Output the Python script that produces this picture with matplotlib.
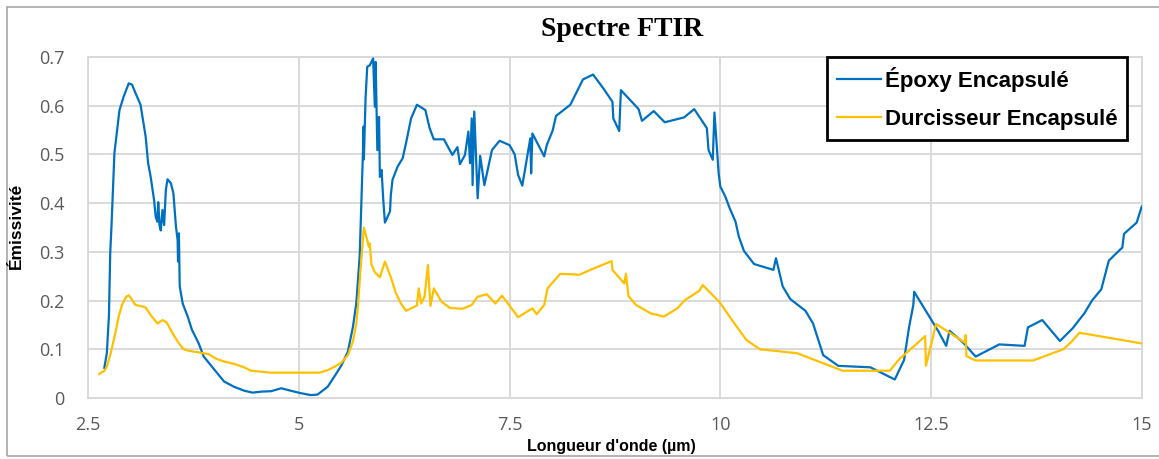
import matplotlib
matplotlib.use("Agg")
import matplotlib.pyplot as plt
from matplotlib.patches import Rectangle

# ---------------- data ----------------
epoxy_x = [2.69, 2.72, 2.745, 2.76, 2.775, 2.81, 2.87, 2.92, 2.98, 3.02, 3.06, 3.12, 3.18, 3.21,
           3.24, 3.28, 3.30, 3.32, 3.33, 3.345, 3.36, 3.38, 3.40, 3.42, 3.44, 3.48, 3.51, 3.54,
           3.56, 3.565, 3.575, 3.585, 3.62, 3.68, 3.73, 3.81, 3.87, 3.95, 4.03, 4.11, 4.23, 4.35,
           4.45, 4.55, 4.67, 4.79, 4.90, 5.02, 5.14, 5.22, 5.34, 5.42, 5.50, 5.58, 5.64, 5.68,
           5.72, 5.74, 5.76, 5.765, 5.77, 5.79, 5.81, 5.84, 5.88, 5.90, 5.91, 5.93, 5.95, 5.96,
           5.98, 6.00, 6.02, 6.08, 6.09, 6.11, 6.17, 6.23, 6.27, 6.33, 6.40, 6.50, 6.55, 6.60,
           6.72, 6.82, 6.88, 6.91, 6.97, 7.01, 7.03, 7.05, 7.06, 7.08, 7.12, 7.15, 7.20, 7.29,
           7.38, 7.50, 7.56, 7.60, 7.65, 7.745, 7.755, 7.77, 7.91, 7.94, 8.01, 8.05, 8.22, 8.37,
           8.49, 8.61, 8.72, 8.73, 8.80, 8.82, 9.03, 9.07, 9.21, 9.34, 9.57, 9.69, 9.84, 9.86,
           9.91, 9.93, 9.98, 10.00, 10.06, 10.11, 10.18, 10.22, 10.28, 10.40, 10.63, 10.66, 10.74,
           10.83, 11.01, 11.10, 11.22, 11.40, 11.78, 11.92, 12.07, 12.18, 12.24, 12.29, 12.30,
           12.49, 12.59, 12.68, 12.72, 12.88, 13.03, 13.31, 13.61, 13.65, 13.82, 14.03, 14.18,
           14.32, 14.41, 14.52, 14.61, 14.77, 14.79, 14.94, 15.00]
epoxy_y = [0.062, 0.092, 0.17, 0.297, 0.352, 0.503, 0.591, 0.619, 0.646, 0.643, 0.626, 0.602, 0.537, 0.482,
           0.454, 0.407, 0.372, 0.362, 0.402, 0.355, 0.344, 0.386, 0.355, 0.427, 0.449, 0.441, 0.420, 0.352,
           0.324, 0.280, 0.338, 0.229, 0.194, 0.167, 0.140, 0.112, 0.085, 0.068, 0.051, 0.034, 0.023, 0.015,
           0.011, 0.013, 0.014, 0.020, 0.015, 0.010, 0.006, 0.007, 0.023, 0.044, 0.066, 0.095, 0.146, 0.194,
           0.290, 0.400, 0.509, 0.557, 0.490, 0.615, 0.680, 0.683, 0.697, 0.598, 0.690, 0.509, 0.577, 0.454,
           0.468, 0.407, 0.360, 0.383, 0.417, 0.448, 0.475, 0.492, 0.523, 0.574, 0.602, 0.591, 0.554, 0.531,
           0.531, 0.499, 0.515, 0.480, 0.499, 0.547, 0.482, 0.574, 0.437, 0.588, 0.410, 0.497, 0.437, 0.509,
           0.528, 0.519, 0.500, 0.458, 0.436, 0.533, 0.461, 0.543, 0.496, 0.519, 0.549, 0.579, 0.602, 0.654,
           0.664, 0.636, 0.608, 0.574, 0.548, 0.632, 0.593, 0.569, 0.589, 0.566, 0.576, 0.593, 0.554, 0.509,
           0.489, 0.586, 0.461, 0.434, 0.413, 0.390, 0.362, 0.331, 0.302, 0.275, 0.263, 0.287, 0.229,
           0.203, 0.179, 0.153, 0.088, 0.066, 0.063, 0.051, 0.038, 0.078, 0.146, 0.191, 0.218,
           0.164, 0.136, 0.107, 0.138, 0.114, 0.085, 0.110, 0.107, 0.145, 0.160, 0.117, 0.143,
           0.174, 0.200, 0.223, 0.282, 0.309, 0.337, 0.360, 0.393]

durc_x = [2.63, 2.66, 2.69, 2.72, 2.77, 2.82, 2.86, 2.90, 2.95, 2.98, 3.01, 3.06, 3.14, 3.18, 3.24,
          3.32, 3.38, 3.43, 3.50, 3.56, 3.63, 3.69, 3.83, 3.93, 4.01, 4.11, 4.23, 4.35, 4.43, 4.55,
          4.67, 5.24, 5.34, 5.42, 5.50, 5.58, 5.64, 5.68, 5.70, 5.73, 5.77, 5.81, 5.83, 5.84, 5.86,
          5.90, 5.96, 6.02, 6.09, 6.15, 6.21, 6.27, 6.40, 6.42, 6.45, 6.49, 6.53, 6.56, 6.60, 6.69,
          6.79, 6.94, 7.05, 7.12, 7.23, 7.33, 7.41, 7.60, 7.77, 7.82, 7.91, 7.95, 8.10, 8.33, 8.47,
          8.71, 8.72, 8.86, 8.88, 8.91, 9.00, 9.17, 9.33, 9.49, 9.58, 9.75, 9.79, 9.99, 10.15, 10.31,
          10.47, 10.91, 11.45, 12.01, 12.13, 12.29, 12.43, 12.44, 12.56, 12.72, 12.90, 12.91, 12.92,
          13.03, 13.71, 14.07, 14.17, 14.26, 15.00]
durc_y = [0.049, 0.053, 0.055, 0.064, 0.095, 0.133, 0.167, 0.191, 0.208, 0.211, 0.204, 0.191, 0.188, 0.186, 0.170,
          0.153, 0.160, 0.155, 0.133, 0.116, 0.100, 0.097, 0.093, 0.090, 0.081, 0.075, 0.070, 0.063, 0.056, 0.054,
          0.052, 0.052, 0.057, 0.064, 0.072, 0.088, 0.116, 0.153, 0.188, 0.263, 0.350, 0.324, 0.310, 0.317, 0.274,
          0.258, 0.248, 0.280, 0.248, 0.215, 0.194, 0.179, 0.190, 0.225, 0.194, 0.208, 0.273, 0.189, 0.225, 0.198,
          0.185, 0.183, 0.191, 0.208, 0.213, 0.194, 0.210, 0.166, 0.184, 0.172, 0.191, 0.225, 0.255, 0.253, 0.264,
          0.281, 0.263, 0.235, 0.255, 0.209, 0.191, 0.174, 0.167, 0.184, 0.201, 0.220, 0.232, 0.197, 0.157, 0.119,
          0.100, 0.092, 0.056, 0.056, 0.081, 0.105, 0.127, 0.066, 0.152, 0.134, 0.114, 0.129, 0.086,
          0.077, 0.077, 0.100, 0.116, 0.134, 0.112]

series_labels = ["Époxy Encapsulé", "Durcisseur Encapsulé"]
x_ticks = [2.5, 5, 7.5, 10, 12.5, 15]
x_tick_labels = ["2.5", "5", "7.5", "10", "12.5", "15"]
y_ticks = [0, 0.1, 0.2, 0.3, 0.4, 0.5, 0.6, 0.7]
y_tick_labels = ["0", "0.1", "0.2", "0.3", "0.4", "0.5", "0.6", "0.7"]
title = "Spectre FTIR"
x_label = "Longueur d'onde (µm)"
y_label = "Émissivité"

# ---------------- figure ----------------
W, H = 1159, 459
fig = plt.figure(figsize=(W / 100, H / 100), dpi=100)
ax = fig.add_axes([88.3 / W, 1 - 398 / H, (1141.7 - 88.3) / W, (398 - 57) / H])

blue = "#0070C0"
gold = "#FFC000"
grid_c = "#D9D9D9"

ax.plot(epoxy_x, epoxy_y, color=blue, lw=1.6, label=series_labels[0], zorder=3)
ax.plot(durc_x, durc_y, color=gold, lw=1.6, label=series_labels[1], zorder=3)

ax.set_xlim(2.5, 15)
ax.set_ylim(0, 0.7)
ax.set_xticks(x_ticks)
ax.set_xticklabels(x_tick_labels)
ax.set_yticks(y_ticks)
ax.set_yticklabels(y_tick_labels)
ax.grid(True, color=grid_c, lw=1.4)
ax.set_axisbelow(True)
for s in ax.spines.values():
    s.set_color(grid_c)
    s.set_linewidth(1.4)
ax.tick_params(length=0, labelsize=13, labelcolor="#595959")
ax.tick_params(axis="x", pad=13)
ax.tick_params(axis="y", pad=17)
for t in ax.get_xticklabels() + ax.get_yticklabels():
    t.set_fontfamily("Open Sans")

leg = ax.legend(loc="upper left", bbox_to_anchor=(0.701, 1.0), borderaxespad=0,
                fancybox=False, framealpha=1, edgecolor="black",
                prop={"family": "Liberation Sans", "weight": "bold", "size": 16},
                handlelength=2.0, handletextpad=0.15, borderpad=0.45, labelspacing=0.75)
leg.get_frame().set_linewidth(2.0)
for h in leg.get_lines():
    h.set_linewidth(1.6)

fig.text(621.7 / W, 1 - 29 / H, title, ha="center", va="center",
         fontfamily="Liberation Serif", fontweight="bold", fontsize=20)
fig.text(611.7 / W, 1 - 446 / H, x_label, ha="center", va="center",
         fontfamily="Liberation Sans", fontweight="bold", fontsize=11.5)
fig.text(16.7 / W, 1 - 226 / H, y_label, ha="center", va="center", rotation=90,
         fontfamily="Liberation Sans", fontweight="bold", fontsize=12.5)

# outer frame
fig.patches.append(Rectangle((7 / W, 1 - 456 / H), 1.2, (456 - 7) / H, transform=fig.transFigure,
                             fill=False, edgecolor="#A6A6A6", lw=1.2))

fig.savefig("out.png", dpi=100)
